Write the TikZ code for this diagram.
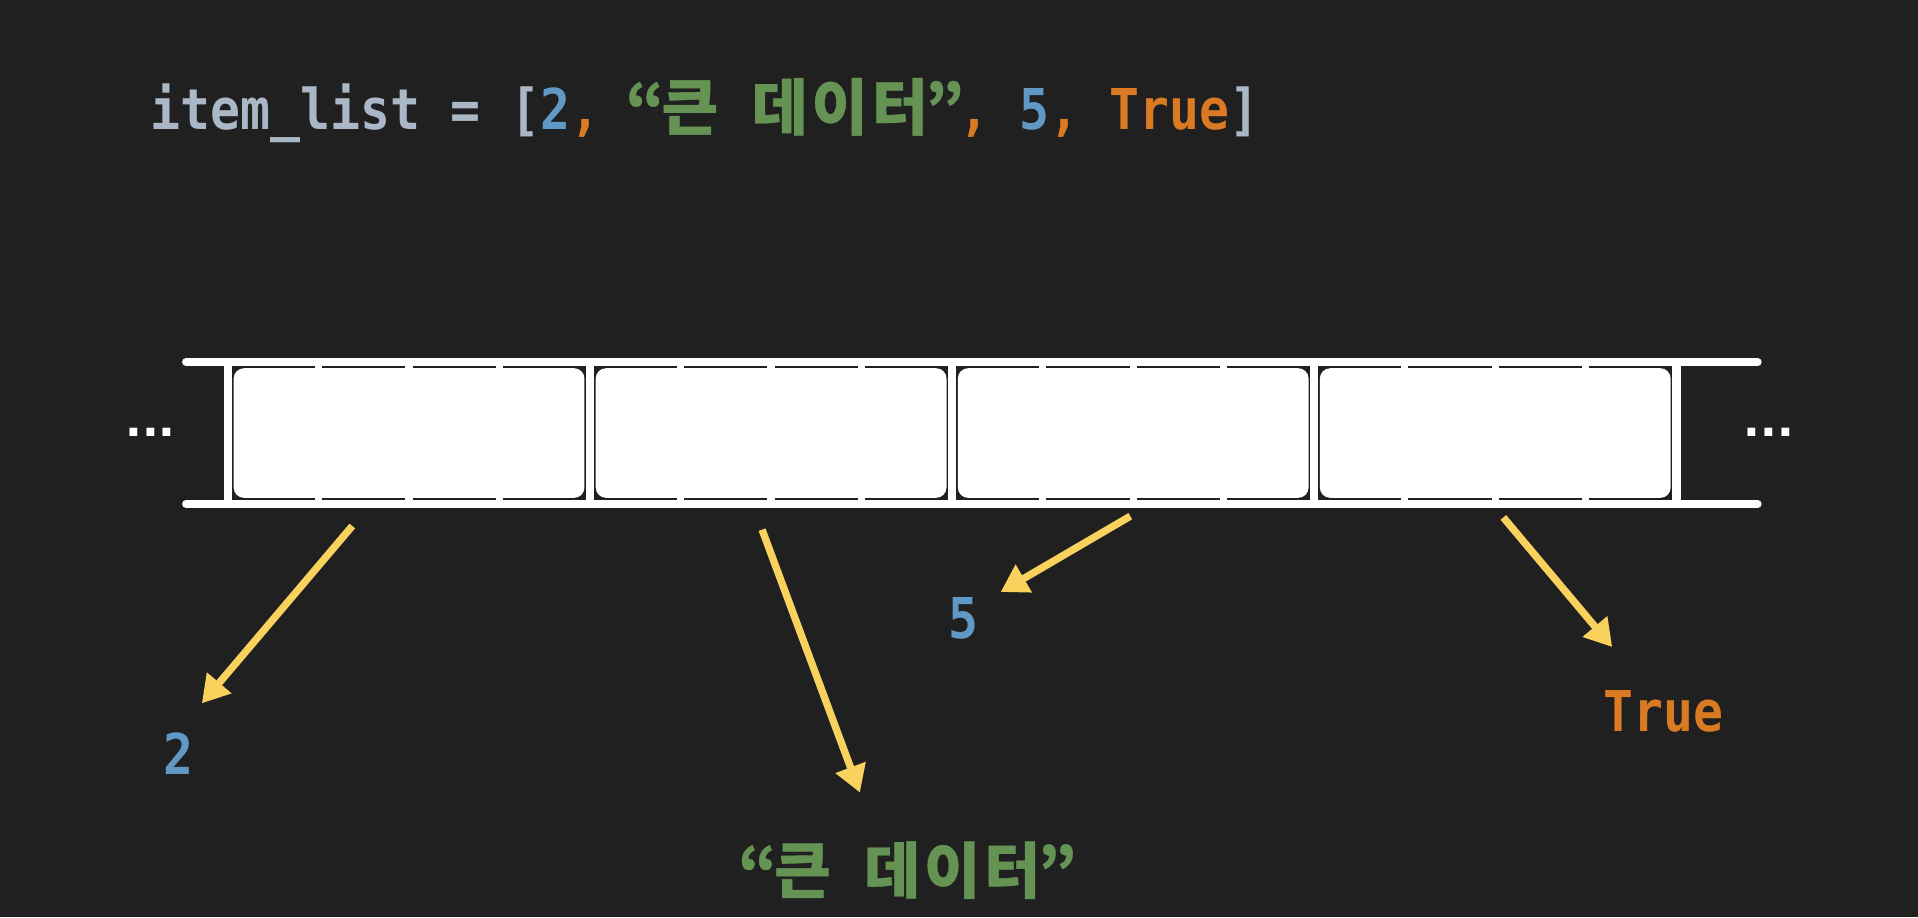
\documentclass[tikz,border=0pt]{standalone}
\usepackage{fontspec}
\usetikzlibrary{arrows.meta}
\newfontfamily\monof[FakeStretch=0.885]{DejaVu Sans Mono}
\newfontfamily\krf[FakeBold=0.6]{Noto Sans CJK KR}
\newfontfamily\dotf{DejaVu Sans}
\definecolor{bgc}{HTML}{202020}
\definecolor{cgrey}{HTML}{A9B7C6}
\definecolor{cblue}{HTML}{6199C6}
\definecolor{corange}{HTML}{DA7A22}
\definecolor{cgreen}{HTML}{659353}
\definecolor{cyel}{HTML}{F8D25C}
\newcommand\hg[1]{\makebox[49pt][c]{\krf\fontsize{50}{50}\selectfont #1}}
\newcommand\qt[1]{\makebox[24.5pt][c]{\krf\fontsize{50}{50}\selectfont #1}}
\tikzset{
  tok/.style={anchor=base west, inner sep=0pt, outer sep=0pt,
    font=\monof\bfseries\fontsize{46}{46}\selectfont},
  dots/.style={anchor=base, inner sep=0pt, text=white,
    font=\dotf\bfseries\fontsize{36}{36}\selectfont},
  ptr/.style={draw=cyel, line width=6pt, -{Triangle[length=22pt,width=25pt]}},
  rail/.style={draw=white, line width=6.3pt, line cap=round}
}
\begin{document}
\begin{tikzpicture}[x=1pt,y=-1pt]
\useasboundingbox (0,0) rectangle (1568,750);
\fill[bgc] (0,0) rectangle (1568,750);
% title
\node[tok,text=cgrey] (t1) at (123,106) {item\_list};
\node[tok,text=cgrey] (t2) at (123+10*24.5,106) {=};
\node[tok,text=cgrey] (t3) at (123+12*24.5,106) {[};
\node[tok,text=cblue] (t4) at (123+13*24.5,106) {2};
\node[tok,text=corange] (t5) at (123+14*24.5,106) {,};
\node[tok,text=cgreen] (t6) at (123+16*24.5,106) {\qt{“}};
\node[tok,text=cgreen] (t7) at (123+17*24.5,106) {\hg{큰}};
\node[tok,text=cgreen] (t8) at (123+20*24.5,106) {\hg{데}};
\node[tok,text=cgreen] (t9) at (123+22*24.5,106) {\hg{이}};
\node[tok,text=cgreen] (t10) at (123+24*24.5,106) {\hg{터}};
\node[tok,text=cgreen] (t11) at (123+26*24.5,106) {\qt{”}};
\node[tok,text=corange] (t12) at (123+27*24.5,106) {,};
\node[tok,text=cblue] (t13) at (123+29*24.5,106) {5};
\node[tok,text=corange] (t14) at (123+30*24.5,106) {,};
\node[tok,text=corange] (t15) at (123+32*24.5,106) {True};
\node[tok,text=cgrey] (t16) at (123+36*24.5,106) {]};
% memory cells
\fill[white] (183,296) rectangle (1374,412);
\foreach \i in {0,1,2,3} {
  \pgfmathsetmacro\xa{186.4+296*\i}
  \pgfmathsetmacro\xb{186.4+296*(\i+1)}
  \fill[bgc] (\xa+3.25,299) rectangle (\xb-3.25,409);
  \fill[white,rounded corners=8.5pt] (\xa+4.6,301) rectangle (\xb-4.6,407);
  \foreach \k in {1,2,3} {
    \fill[white] (\xa+74*\k-3,299) rectangle (\xa+74*\k+3,409);
  }
}
\coordinate (ra) at (152,296);
\coordinate (rb) at (1437,296);
\coordinate (rc) at (152,412);
\coordinate (rd) at (1437,412);
\draw[rail] (ra) -- (rb);
\draw[rail] (rc) -- (rd);
\node[dots] (d1) at (123,357) {...};
\node[dots] (d2) at (1446,357) {...};
% labels
\node[tok,text=cblue] (l1) at (134,633) {2};
\node[tok,text=cgreen] (l2) at (607,730) {\qt{“}\hg{큰}\makebox[24.5pt]{}\hg{데}\hg{이}\hg{터}\qt{”}};
\node[tok,text=cblue] (l3) at (775,522) {5};
\node[tok,text=corange] (l4) at (1311,598) {True};
% arrows
\coordinate (s1) at (288,430);
\coordinate (e1) at (165,575);
\coordinate (s2) at (623,433);
\coordinate (e2) at (703,648);
\coordinate (s3) at (924,422);
\coordinate (e3) at (818,484);
\coordinate (s4) at (1229,423);
\coordinate (e4) at (1318,529);
\draw[ptr] (s1) -- (e1);
\draw[ptr] (s2) -- (e2);
\draw[ptr] (s3) -- (e3);
\draw[ptr] (s4) -- (e4);
\end{tikzpicture}
\end{document}
